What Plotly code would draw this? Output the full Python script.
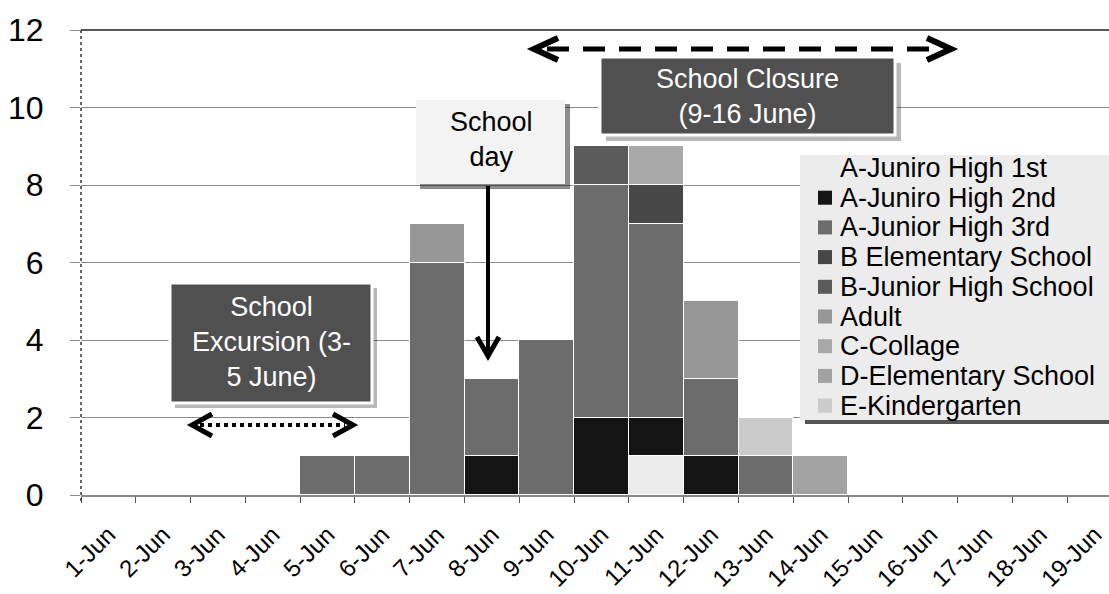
import plotly.graph_objects as go

# ---- data -------------------------------------------------------------
days = ["1-Jun", "2-Jun", "3-Jun", "4-Jun", "5-Jun", "6-Jun", "7-Jun",
        "8-Jun", "9-Jun", "10-Jun", "11-Jun", "12-Jun", "13-Jun", "14-Jun",
        "15-Jun", "16-Jun", "17-Jun", "18-Jun", "19-Jun"]

a_jh_1st = [0, 0, 0, 0, 0, 0, 0, 0, 0, 0, 1, 0, 0, 0, 0, 0, 0, 0, 0]
a_jh_2nd = [0, 0, 0, 0, 0, 0, 0, 1, 0, 2, 1, 1, 0, 0, 0, 0, 0, 0, 0]
a_jh_3rd = [0, 0, 0, 0, 1, 1, 6, 2, 4, 6, 5, 2, 1, 0, 0, 0, 0, 0, 0]
b_elem = [0, 0, 0, 0, 0, 0, 0, 0, 0, 0, 1, 0, 0, 0, 0, 0, 0, 0, 0]
b_jh = [0, 0, 0, 0, 0, 0, 0, 0, 0, 1, 0, 0, 0, 0, 0, 0, 0, 0, 0]
adult = [0, 0, 0, 0, 0, 0, 1, 0, 0, 0, 0, 2, 0, 0, 0, 0, 0, 0, 0]
c_college = [0, 0, 0, 0, 0, 0, 0, 0, 0, 0, 1, 0, 0, 0, 0, 0, 0, 0, 0]
d_elem = [0, 0, 0, 0, 0, 0, 0, 0, 0, 0, 0, 0, 0, 1, 0, 0, 0, 0, 0]
e_kinder = [0, 0, 0, 0, 0, 0, 0, 0, 0, 0, 0, 0, 1, 0, 0, 0, 0, 0, 0]

series_names = ["A-Juniro High 1st", "A-Juniro High 2nd", "A-Junior High 3rd",
                "B Elementary School", "B-Junior High School", "Adult",
                "C-Collage", "D-Elementary School", "E-Kindergarten"]
series_values = [a_jh_1st, a_jh_2nd, a_jh_3rd, b_elem, b_jh, adult,
                 c_college, d_elem, e_kinder]

# ---- styling ----------------------------------------------------------
colors = ["#ebebeb", "#141414", "#6c6c6c", "#474747", "#5a5a5a",
          "#979797", "#a9a9a9", "#a2a2a2", "#cbcbcb"]
FONT = "Liberation Sans, Arial, sans-serif"

# plot-area geometry (pixels) used for placing the call-out decorations
L, T, W, H = 81, 30, 1028, 465
X_RANGE = [-0.5, 18.26]


def px(x):
    return (x - L) / W


def py(y):
    return (T + H - y) / H


fig = go.Figure()
for name, vals, col in zip(series_names, series_values, colors):
    fig.add_trace(go.Bar(
        x=days, y=[v if v else None for v in vals], name=name,
        marker=dict(color=col, line=dict(color="white", width=1)),
        showlegend=False,
    ))

shapes = []
annotations = []


def rect(x0, y0, x1, y1, fill, line_color=None, line_width=0, layer="above"):
    shapes.append(dict(
        type="rect", xref="paper", yref="paper", layer=layer,
        x0=px(x0), x1=px(x1), y0=py(y1), y1=py(y0),
        fillcolor=fill,
        line=dict(color=line_color or fill, width=line_width),
    ))


def seg(points, color="black", width=4, dash="solid"):
    path = "M " + " L ".join(f"{px(x):.5f},{py(y):.5f}" for x, y in points)
    shapes.append(dict(type="path", xref="paper", yref="paper", path=path,
                       line=dict(color=color, width=width, dash=dash),
                       layer="above"))


def text(x, y, s, color="black", size=27, xanchor="center"):
    annotations.append(dict(
        xref="paper", yref="paper", x=px(x), y=py(y), text=s,
        showarrow=False, xanchor=xanchor, yanchor="middle", align="center",
        font=dict(family=FONT, size=size, color=color),
    ))


# axis frame: dotted value axis and dark top rule
shapes.append(dict(type="line", xref="paper", yref="paper",
                   x0=0, x1=0, y0=py(T + H + 6), y1=1,
                   line=dict(color="#333", width=1.5, dash="dot")))
shapes.append(dict(type="line", xref="paper", yref="paper",
                   x0=0, x1=1, y0=1, y1=1,
                   line=dict(color="#222", width=1.5)))

# School excursion call-out
rect(175, 288, 377, 408, "rgba(0,0,0,0.28)")
rect(170, 283, 372, 403, "#505050", "white", 3)
text(271, 342, "School<br>Excursion (3-<br>5 June)", color="white")
seg([(200, 425), (345, 425)], width=4, dash="dot")
seg([(212, 414), (192, 425), (212, 436)], width=5)
seg([(333, 414), (353, 425), (333, 436)], width=5)

# School closure call-out
rect(606, 63, 901, 141, "rgba(0,0,0,0.28)")
rect(600, 57, 895, 135, "#505050", "white", 3)
text(747, 96, "School Closure<br>(9-16 June)", color="white")
seg([(547, 49), (938, 49)], width=5, dash="22px,14px")
seg([(558, 38), (534, 49), (558, 60)], width=6)
seg([(927, 38), (951, 49), (927, 60)], width=6)

# School day call-out with arrow
rect(420, 104, 570, 189, "rgba(0,0,0,0.45)")
rect(416, 100, 565, 184, "#f3f3f3")
text(491, 139, "School<br>day")
seg([(488, 186), (488, 354)], width=4)
seg([(477, 337), (488, 356), (499, 337)], width=5)

# legend panel
rect(800, 155, 1109, 421, "#ececec")
rect(805, 420, 1109, 424, "#555555")
row0, pitch = 168, 29.7
for i, (name, col) in enumerate(zip(series_names, colors)):
    yc = row0 + i * pitch
    rect(818, yc - 7, 832, yc + 7, col)
    text(838, yc, name, xanchor="left")

fig.update_layout(
    width=1109, height=594,
    margin=dict(l=L, r=0, t=T, b=594 - T - H, pad=0, autoexpand=False),
    paper_bgcolor="white", plot_bgcolor="white",
    barmode="stack", bargap=0,
    font=dict(family=FONT, color="black"),
    shapes=shapes, annotations=annotations,
    xaxis=dict(
        type="category", range=X_RANGE, tickangle=-45, automargin=False,
        tickfont=dict(size=24, family=FONT, color="black"),
        tickson="boundaries",
        ticks="outside", ticklen=6, tickcolor="#555",
        showline=True, linecolor="#888", linewidth=2,
        showgrid=False, ticklabelstandoff=14,
    ),
    yaxis=dict(
        range=[0, 12], dtick=2, automargin=False,
        tickfont=dict(size=32, family=FONT, color="black"),
        showgrid=True, gridcolor="#8c8c8c", gridwidth=1,
        ticks="outside", ticklen=10, tickcolor="#8c8c8c",
        showline=False, zeroline=False, ticklabelstandoff=20,
    ),
)

fig.write_html("out.html")
